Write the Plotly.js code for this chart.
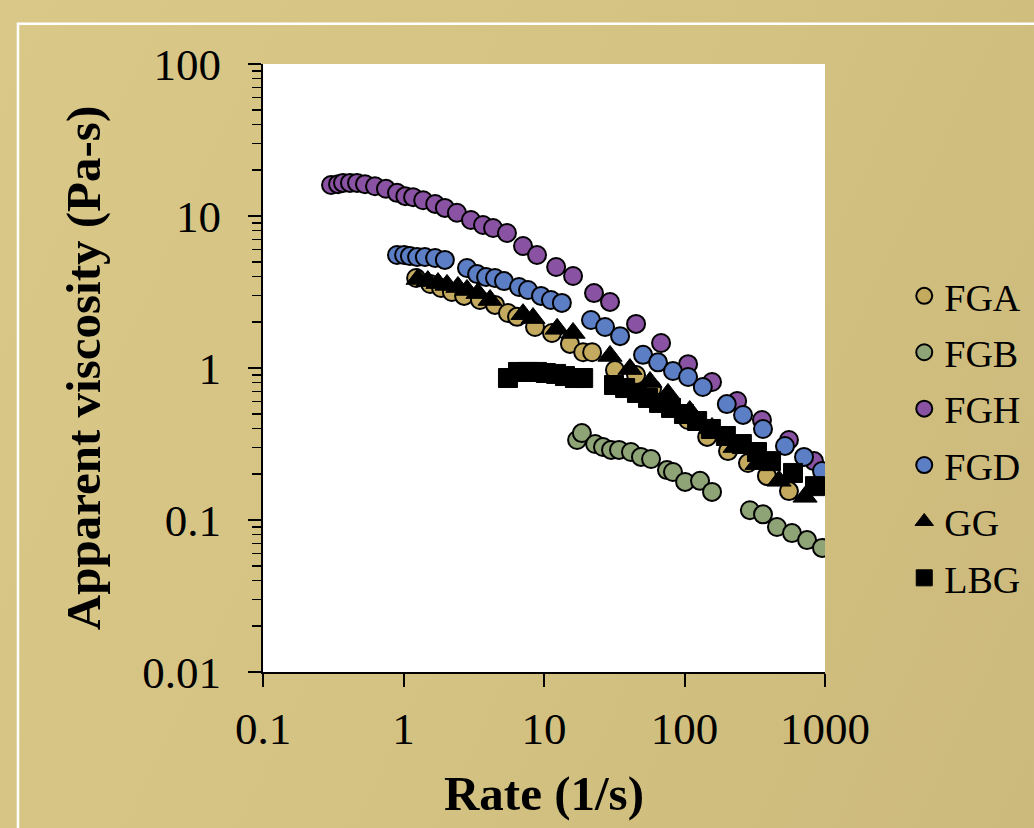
<!DOCTYPE html>
<html>
<head>
<meta charset="utf-8">
<script src="https://cdn.plot.ly/plotly-3.0.1.min.js"></script>
<style>
  html, body { margin: 0; padding: 0; }
  body { width: 1034px; height: 828px; overflow: hidden;
         background: linear-gradient(115deg, #d9c888 0%, #d3c281 55%, #ccb97c 100%); }
  #chart { width: 1034px; height: 828px; }
</style>
</head>
<body>
<div id="chart"></div>
<script>
// ---- data ----
const seriesNames = ["FGA", "FGB", "FGH", "FGD", "GG", "LBG"];

const fgaRate = [1.23, 1.55, 1.85, 2.21, 2.70, 3.50, 4.48, 5.54, 6.43, 8.63, 11.4, 15.3, 19.0, 22.0, 32.0, 45.2, 58.7, 77.6, 106, 145, 204, 283, 386, 554];
const fgaVisc = [3.91, 3.57, 3.36, 3.16, 2.98, 2.80, 2.60, 2.30, 2.17, 1.86, 1.70, 1.44, 1.27, 1.27, 0.970, 0.899, 0.728, 0.579, 0.455, 0.352, 0.284, 0.237, 0.195, 0.155];

const fgbRate = [17.2, 18.6, 23.1, 26.3, 30.0, 34.2, 41.6, 49.0, 57.8, 75.0, 82.8, 101, 129, 157, 292, 362, 455, 582, 745, 952];
const fgbVisc = [0.336, 0.373, 0.316, 0.302, 0.289, 0.289, 0.280, 0.260, 0.252, 0.213, 0.207, 0.178, 0.181, 0.153, 0.116, 0.109, 0.0899, 0.0820, 0.0738, 0.0655];

const fghRate = [0.305, 0.342, 0.371, 0.416, 0.467, 0.532, 0.627, 0.750, 0.899, 1.03, 1.17, 1.38, 1.68, 1.97, 2.40, 3.02, 3.68, 4.34, 5.45, 7.09, 8.92, 12.2, 16.1, 22.7, 29.5, 45.2, 68.1, 106, 157, 237, 356, 554, 835];
const fghVisc = [16.0, 16.2, 16.5, 16.5, 16.5, 16.2, 15.7, 15.1, 14.2, 13.5, 13.3, 12.7, 12.0, 11.3, 10.5, 9.41, 8.73, 8.34, 7.73, 6.35, 5.54, 4.62, 4.03, 3.11, 2.72, 1.95, 1.46, 1.06, 0.809, 0.607, 0.455, 0.336, 0.244];

const fgdRate = [0.899, 1.01, 1.11, 1.25, 1.42, 1.68, 1.97, 2.83, 3.34, 3.87, 4.48, 5.19, 6.64, 7.69, 9.52, 11.2, 13.4, 21.6, 27.2, 34.8, 50.7, 64.8, 82.8, 106, 135, 200, 261, 362, 519, 709, 952];
const fgdVisc = [5.54, 5.54, 5.45, 5.37, 5.37, 5.29, 5.14, 4.55, 4.15, 3.97, 3.91, 3.73, 3.41, 3.26, 2.98, 2.80, 2.68, 2.07, 1.86, 1.62, 1.22, 1.09, 0.955, 0.873, 0.750, 0.579, 0.491, 0.397, 0.307, 0.260, 0.210];

const ggRate = [1.27, 1.49, 1.76, 2.04, 2.44, 2.83, 3.39, 4.13, 7.09, 8.35, 12.4, 16.1, 29.5, 40.9, 56.8, 76.3, 109, 157, 229, 328, 471, 721];
const ggVisc = [3.85, 3.73, 3.62, 3.52, 3.41, 3.26, 3.11, 2.80, 2.26, 2.13, 1.81, 1.70, 1.20, 0.984, 0.809, 0.675, 0.521, 0.403, 0.302, 0.233, 0.181, 0.142];

const lbgRate = [5.54, 6.53, 7.69, 8.92, 10.3, 12.2, 14.1, 16.6, 19.0, 31.5, 37.8, 45.9, 55.0, 65.9, 80.2, 99.1, 123, 154, 197, 256, 328, 413, 592, 849];
const lbgVisc = [0.859, 0.942, 0.942, 0.942, 0.927, 0.914, 0.885, 0.859, 0.859, 0.773, 0.738, 0.685, 0.635, 0.589, 0.546, 0.498, 0.448, 0.397, 0.357, 0.316, 0.280, 0.244, 0.204, 0.167];

const xTickVals = [0.1, 1, 10, 100, 1000];
const xTickText = ["0.1", "1", "10", "100", "1000"];

// ---- styling ----
const FONT = "'Liberation Serif', 'Times New Roman', serif";
function circleTrace(name, x, y, color) {
  return { type: "scatter", mode: "markers", name: name, legendgroup: name, x: x, y: y,
    marker: { symbol: "circle", size: 18, color: color, line: { color: "#000", width: 2 } } };
}
const traces = [
  circleTrace(seriesNames[0], fgaRate, fgaVisc, "#c4aa5e"),
  circleTrace(seriesNames[1], fgbRate, fgbVisc, "#8ea477"),
  circleTrace(seriesNames[2], fghRate, fghVisc, "#8a52a2"),
  circleTrace(seriesNames[3], fgdRate, fgdVisc, "#5b7ec5"),
  { type: "scatter", mode: "markers", name: seriesNames[4], legendgroup: seriesNames[4], x: ggRate, y: ggVisc,
    marker: { symbol: "triangle-up", size: 21, color: "#000", line: { color: "#000", width: 1 } } },
  { type: "scatter", mode: "markers", name: seriesNames[5], legendgroup: seriesNames[5], x: lbgRate, y: lbgVisc,
    marker: { symbol: "square", size: 19, color: "#000", line: { color: "#000", width: 1 } } }
];

const layout = {
  width: 1034, height: 828,
  paper_bgcolor: "rgba(0,0,0,0)",
  plot_bgcolor: "#ffffff",
  margin: { l: 263, r: 209, t: 64, b: 156, pad: 0, autoexpand: false },
  font: { family: FONT, color: "#000" },
  showlegend: true,
  legend: {
    x: 1.141, xanchor: "left", y: 0.67, yanchor: "top",
    font: { family: FONT, size: 38, color: "#000" },
    bgcolor: "rgba(0,0,0,0)", traceorder: "grouped", tracegroupgap: 4,
    itemclick: false
  },
  xaxis: {
    type: "log", range: [-1, 3], autorange: false,
    tickmode: "array", tickvals: xTickVals, ticktext: xTickText,
    ticks: "outside", ticklen: 13, tickwidth: 2, tickcolor: "#000",
    showline: true, linecolor: "#000", linewidth: 2,
    showgrid: false, zeroline: false, mirror: false,
    tickfont: { family: FONT, size: 45, color: "#000" },
    ticklabelstandoff: 3,
    title: { text: "<b>Rate (1/s)</b>", font: { family: FONT, size: 49, color: "#000" }, standoff: 23 },
    automargin: false
  },
  yaxis: {
    type: "log", range: [-2, 2], autorange: false,
    tickmode: "linear", tick0: 0, dtick: 1,
    ticks: "outside", ticklen: 13, tickwidth: 2, tickcolor: "#000",
    minor: { ticks: "outside", ticklen: 9, tickwidth: 1.5, tickcolor: "#000", dtick: "D1", showgrid: false },
    showline: true, linecolor: "#000", linewidth: 2,
    showgrid: false, zeroline: false,
    tickfont: { family: FONT, size: 45, color: "#000" },
    ticklabelstandoff: 18,
    title: { text: "<b>Apparent viscosity (Pa-s)</b>", font: { family: FONT, size: 49, color: "#000" }, standoff: 26 },
    automargin: false
  },
  shapes: [
    { type: "rect", xref: "paper", yref: "paper", x0: -0.436, x1: 1.6, y0: -0.5, y1: 1.066,
      line: { color: "#ffffff", width: 2.5 }, fillcolor: "rgba(0,0,0,0)", layer: "below" }
  ]
};

Plotly.newPlot("chart", traces, layout, { displayModeBar: false, staticPlot: true });
</script>
</body>
</html>
